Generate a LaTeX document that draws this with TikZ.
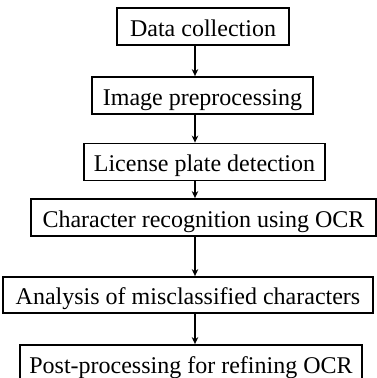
\documentclass[tikz,border=0pt]{standalone}
\usepackage{fontspec}
\setmainfont{Liberation Serif}
\usetikzlibrary{arrows.meta}
\begin{document}
\begin{tikzpicture}[x=1pt, y=-1pt,
  stage/.style={draw, line width=1.8pt, inner sep=0pt, minimum height=37pt,
    text height=19.5pt, text depth=0pt, font=\fontsize{24}{28}\selectfont},
  flow/.style={line width=1.5pt, -{Stealth[length=7pt, width=6.5pt]}}]
  \useasboundingbox (0,0) rectangle (377,378);
  % pipeline stages
  \node[stage, minimum width=172pt] (b1) at (203,26.5) {Data collection};
  \node[stage, minimum width=221pt] (b2) at (202.5,95.5) {Image preprocessing};
  \node[stage, minimum width=241pt] (b3) at (204.5,162) {License plate detection};
  \node[stage, minimum width=345pt] (b4) at (203.5,217.5) {Character recognition using OCR};
  \node[stage, minimum width=370pt, minimum height=36pt] (b5) at (188,295) {Analysis of misclassified characters};
  \node[stage, minimum width=342pt] (b6) at (191,363.5) {Post-processing for refining OCR};
  % common vertical line of the arrows
  \coordinate (ax) at (195,0);
  \draw[flow] (b1.south -| ax) -- (b2.north -| ax);
  \draw[flow] (b2.south -| ax) -- (b3.north -| ax);
  \draw[flow] (b3.south -| ax) -- (b4.north -| ax);
  \draw[flow] (b4.south -| ax) -- (b5.north -| ax);
  \draw[flow] (b5.south -| ax) -- (b6.north -| ax);
\end{tikzpicture}
\end{document}
